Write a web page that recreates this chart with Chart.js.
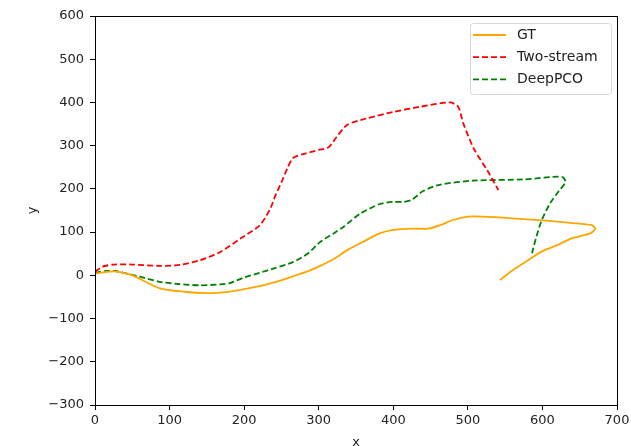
<!DOCTYPE html>
<html>
<head>
<meta charset="utf-8">
<script src="https://cdn.jsdelivr.net/npm/chart.js@4"></script>
<style>
  body { margin: 0; background: #fff; }
  canvas { display: block; }
</style>
</head>
<body>
<canvas id="traj" width="631" height="446"></canvas>
<script>
// trajectories
const gtX = [0, 15, 27, 50, 87, 120, 150, 175, 200, 221, 245, 266, 285, 302, 320, 340, 360, 380, 400, 425, 447, 463, 480, 500, 520, 560, 600, 640, 666, 671, 664, 640, 620, 600, 579, 560, 543];
const gtY = [4, 8, 9, 0, -30, -38, -41, -39, -32, -25, -14, -2, 9, 22, 38, 60, 78, 96, 105, 108, 108, 116, 128, 136, 136, 132, 127, 121, 116, 108, 97, 86, 70, 56, 33, 12, -11];

const twoX = [0, 10, 25, 50, 87, 114, 141, 168, 195, 221, 235, 242, 250, 258, 266, 280, 300, 313, 324, 338, 364, 400, 436, 476, 487, 494, 508, 526, 541];
const twoY = [8, 20, 25, 25, 22, 24, 35, 54, 85, 116, 154, 185, 215, 248, 272, 281, 290, 296, 320, 348, 363, 378, 390, 400, 390, 351, 293, 243, 197];

const pcoX = [0, 15, 27, 45, 60, 87, 110, 141, 168, 181, 200, 221, 240, 266, 285, 302, 320, 333, 356, 382, 400, 414, 425, 440, 463, 507, 575, 626, 631, 622, 610, 599, 592, 586];
const pcoY = [6, 10, 10, 3, -3, -15, -20, -23, -21, -18, -5, 6, 16, 31, 50, 77, 97, 112, 143, 165, 170, 170, 175, 195, 210, 219, 222, 228, 216, 195, 166, 127, 90, 51];

const seriesNames = ['GT', 'Two-stream', 'DeepPCO'];
const xTicks = [0, 100, 200, 300, 400, 500, 600, 700];
const yTicks = [-300, -200, -100, 0, 100, 200, 300, 400, 500, 600];

function pts(xs, ys) {
  return xs.map((x, i) => ({x: x, y: ys[i]}));
}

const FONT = {family: '"DejaVu Sans", sans-serif', size: 13};
const TXT = '#222';

// matplotlib-like frame and legend box inside the axes
const frameAndLegend = {
  id: 'frameAndLegend',
  afterDraw(chart) {
    const ctx = chart.ctx;
    const a = chart.chartArea;
    ctx.save();
    ctx.strokeStyle = '#000';
    ctx.lineWidth = 1;
    ctx.strokeRect(Math.round(a.left) + 0.5, Math.round(a.top) + 0.5,
      Math.round(a.right - a.left), Math.round(a.bottom - a.top));

    const bx = 470, by = 23, bw = 141, bh = 71;
    ctx.beginPath();
    ctx.roundRect(bx + 0.5, by + 0.5, bw, bh, 3);
    ctx.fillStyle = 'rgba(255,255,255,0.8)';
    ctx.fill();
    ctx.strokeStyle = '#d9d9d9';
    ctx.stroke();

    ctx.font = '14px "DejaVu Sans", sans-serif';
    ctx.textBaseline = 'middle';
    chart.data.datasets.forEach((ds, i) => {
      const y = 35 + i * 22.2;
      ctx.beginPath();
      ctx.strokeStyle = ds.borderColor;
      ctx.lineWidth = ds.borderWidth;
      ctx.setLineDash(ds.borderDash || []);
      ctx.moveTo(473, y);
      ctx.lineTo(506, y);
      ctx.stroke();
      ctx.setLineDash([]);
      ctx.fillStyle = TXT;
      ctx.fillText(ds.label, 517, y);
    });
    ctx.restore();
  }
};

const minus = v => String(v).replace('-', '\u2212');

new Chart(document.getElementById('traj'), {
  type: 'scatter',
  data: {
    datasets: [{
      label: seriesNames[0],
      data: pts(gtX, gtY),
      borderColor: '#ffa500',
      borderWidth: 1.8
    }, {
      label: seriesNames[1],
      data: pts(twoX, twoY),
      borderColor: '#ff0000',
      borderWidth: 1.8,
      borderDash: [6, 3]
    }, {
      label: seriesNames[2],
      data: pts(pcoX, pcoY),
      borderColor: '#008000',
      borderWidth: 1.8,
      borderDash: [6, 3]
    }]
  },
  options: {
    responsive: false,
    animation: false,
    showLine: true,
    elements: {
      point: {radius: 0, hoverRadius: 0},
      line: {tension: 0.25, fill: false}
    },
    layout: {padding: {left: 25, right: 14, top: 16, bottom: 0}},
    plugins: {
      legend: {display: false},
      tooltip: {enabled: false}
    },
    scales: {
      x: {
        type: 'linear',
        min: 0, max: 700,
        afterBuildTicks: s => { s.ticks = xTicks.map(v => ({value: v})); },
        afterFit: s => { s.height = 41; s.paddingLeft = 0; s.paddingRight = 0; },
        ticks: {font: FONT, color: TXT, padding: 3, callback: minus},
        grid: {drawOnChartArea: false, drawTicks: true, tickLength: 5, color: '#000'},
        border: {display: true, color: '#000'},
        title: {display: true, text: 'x', font: FONT, color: TXT, padding: {top: 0, bottom: -4}}
      },
      y: {
        type: 'linear',
        min: -300, max: 600,
        afterBuildTicks: s => { s.ticks = yTicks.map(v => ({value: v})); },
        afterFit: s => { s.width = 70; s.paddingTop = 0; s.paddingBottom = 0; },
        ticks: {font: FONT, color: TXT, padding: 6, callback: minus},
        grid: {drawOnChartArea: false, drawTicks: true, tickLength: 5, color: '#000'},
        border: {display: true, color: '#000'},
        title: {display: true, text: 'y', font: FONT, color: TXT, padding: {top: 0, bottom: 0}}
      }
    }
  },
  plugins: [frameAndLegend]
});
</script>
</body>
</html>
